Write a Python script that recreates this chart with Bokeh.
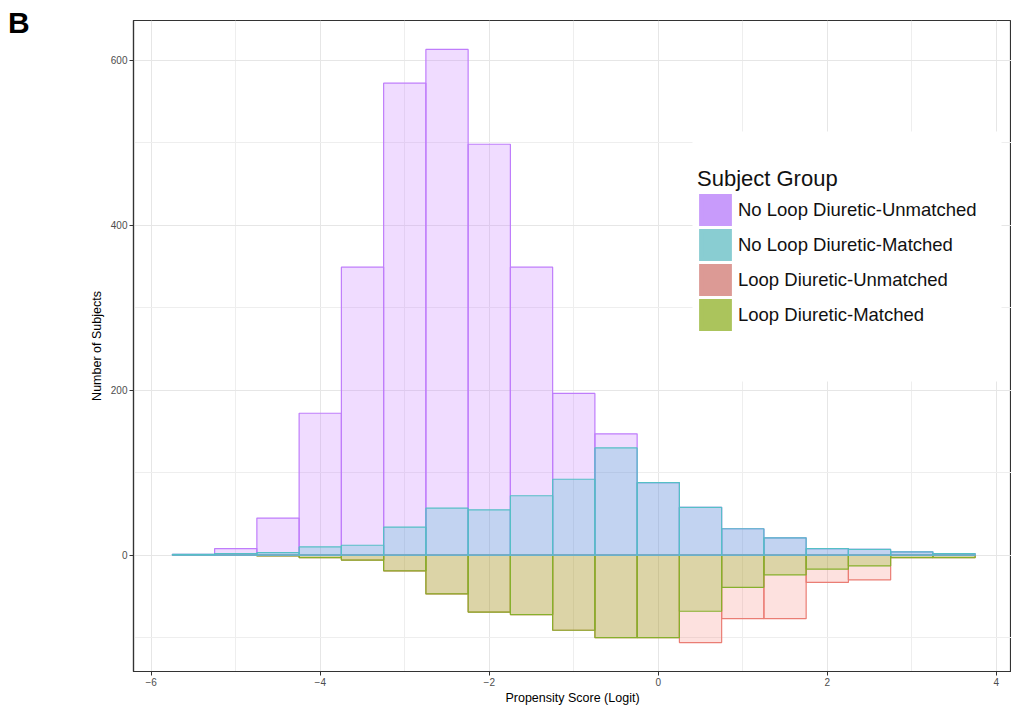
from bokeh.plotting import figure
from bokeh.layouts import row
from bokeh.models import FixedTicker, Legend, LegendItem, BoxAnnotation, ColumnDataSource, Div
from bokeh.embed import file_html
from bokeh.resources import INLINE

# ---- data (counts per propensity-score bin, bin width 0.5) ----
bin_centers = [-5.5, -5.0, -4.5, -4.0, -3.5, -3.0, -2.5, -2.0, -1.5, -1.0,
               -0.5, 0.0, 0.5, 1.0, 1.5, 2.0, 2.5, 3.0, 3.5]
bin_width = 0.5
no_loop_unmatched = [1, 8, 45, 172, 349, 572, 613, 498, 349, 196,
                     147, 88, 58, 32, 21, 8, 7, 4, 2]
no_loop_matched = [1, 2, 3, 10, 12, 34, 57, 55, 72, 92,
                   130, 88, 58, 32, 21, 8, 7, 4, 2]
loop_unmatched = [0, 0, 1, 3, 6, 19, 47, 69, 72, 91,
                  100, 100, 106, 77, 77, 33, 30, 3, 3]
loop_matched = [0, 0, 1, 3, 6, 19, 47, 69, 72, 91,
                100, 100, 68, 39, 24, 17, 13, 3, 3]
group_labels = ["No Loop Diuretic-Unmatched", "No Loop Diuretic-Matched",
                "Loop Diuretic-Unmatched", "Loop Diuretic-Matched"]
x_ticks = [-6, -4, -2, 0, 2, 4]
x_minor = [-5, -3, -1, 1, 3]
y_ticks = [0, 200, 400, 600]
y_minor = [-100, 100, 300, 500]

FONT = "Liberation Sans"
line_cols = ["#bf7dfb", "#55bfc6", "#ea7d74", "#86b02c"]
fill_cols = ["#C77CFF", "#08b0b8", "#F8766D", "#7CAE00"]
fill_alphas = [0.27, 0.2, 0.22, 0.25]
key_cols = ["#c89bfb", "#89cdd2", "#dc9a95", "#abc45c"]

TAG_W = 60
p = figure(width=1011 - TAG_W, height=709, x_range=(-6.21, 4.18), y_range=(-141, 648),
           output_backend="svg", toolbar_location=None,
           min_border_left=133 - TAG_W, min_border_right=0, min_border_top=20,
           min_border_bottom=38)
p.title.visible = False
p.background_fill_color = "white"
p.border_fill_color = "white"
p.outline_line_color = "#333333"
p.outline_line_width = 1.2

lefts = [c - bin_width / 2 for c in bin_centers]
rights = [c + bin_width / 2 for c in bin_centers]
zeros = [0] * len(bin_centers)

# draw order: loop groups first, then no-loop groups (teal ends on top at zero)
series = [
    (2, loop_unmatched, -1),
    (3, loop_matched, -1),
    (0, no_loop_unmatched, 1),
    (1, no_loop_matched, 1),
]
for i, vals, sign in series:
    src = ColumnDataSource(dict(left=lefts, right=rights, bottom=zeros,
                                top=[sign * v for v in vals]))
    p.quad(left="left", right="right", bottom="bottom", top="top", source=src,
           fill_color=fill_cols[i], fill_alpha=fill_alphas[i],
           line_color=line_cols[i], line_width=1.2)

# axes / grid
p.xaxis.ticker = FixedTicker(ticks=x_ticks, minor_ticks=x_minor)
p.yaxis.ticker = FixedTicker(ticks=y_ticks, minor_ticks=y_minor)
for ax in (p.xaxis, p.yaxis):
    ax.axis_line_color = "#333333"
    ax.axis_line_width = 1.2
    ax.major_tick_line_color = "#333333"
    ax.major_tick_out = 4
    ax.major_tick_in = 0
    ax.minor_tick_line_color = None
    ax.major_label_standoff = 2
    ax.major_label_text_font = FONT
    ax.major_label_text_font_size = "10px"
    ax.major_label_text_color = "#4d4d4d"
    ax.axis_label_text_font = FONT
    ax.axis_label_text_font_size = "12.5px"
    ax.axis_label_text_font_style = "normal"
    ax.axis_label_text_color = "#000000"
p.xaxis.axis_label = "Propensity Score (Logit)"
p.yaxis.axis_label = "Number of Subjects"
p.xaxis.axis_label_standoff = 2
p.yaxis.axis_label_standoff = 4

for g in (p.xgrid, p.ygrid):
    g.grid_line_color = "#e6e6e6"
    g.grid_line_width = 1
    g.minor_grid_line_color = "#eeeeee"
    g.minor_grid_line_width = 1

# legend background
bg = BoxAnnotation(left=559, right=868, bottom=290, top=540,
                   left_units="screen", right_units="screen",
                   bottom_units="screen", top_units="screen",
                   fill_color="white", fill_alpha=1.0, line_color=None)
p.add_layout(bg)

nan = float("nan")
items = []
for i, lab in enumerate(group_labels):
    r = p.quad(left=[nan], right=[nan], top=[nan], bottom=[nan],
               fill_color=key_cols[i], fill_alpha=1.0,
               line_color=key_cols[i], line_width=4, line_join="miter")
    items.append(LegendItem(label=lab, renderers=[r]))

legend = Legend(items=items, title="Subject Group", location=(564, 339),
                border_line_color=None, background_fill_alpha=0,
                padding=0, margin=0, spacing=0, glyph_width=36, glyph_height=35,
                label_height=32, label_standoff=5,
                label_text_font=FONT, label_text_font_size="18.5px",
                label_text_color="#111111",
                title_text_font=FONT, title_text_font_size="22px",
                title_text_font_style="normal", title_text_color="#111111",
                title_standoff=0)
p.add_layout(legend, "center")

# panel tag "B"
tag = Div(text='<div style="font-family: \'Liberation Sans\', Arial, sans-serif; '
               'font-size: 30px; font-weight: bold; line-height: 30px; '
               'padding: 8px 0 0 8px; color: #000;">B</div>',
          width=TAG_W, height=709, margin=0,
          styles={"background-color": "white"})

layout = row(tag, p, spacing=0)
open("out.html", "w").write(file_html(layout, INLINE))
